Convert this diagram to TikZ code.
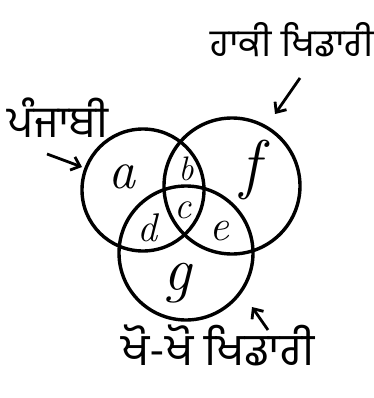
\documentclass[tikz,border=0pt]{standalone}
\usepackage{fontspec}
\newfontfamily\gurmukhifont[Script=Gurmukhi]{Hind Jalandhar}
\usetikzlibrary{arrows.meta}

\tikzset{
    venn circle/.style={
      draw=black,
      line width=3.4pt
    },
    venn label/.style={
      font=\fontsize{#1}{#1}\selectfont\itshape,
      inner sep=0pt
    },
    set name/.style={
      font=\gurmukhifont\fontsize{#1}{#1}\selectfont,
      inner sep=0pt
    },
    set arrow/.style={
      draw=black,
      line width=2.8pt,
      -{Straight Barb[length=8pt,width=14pt,line width=2.8pt]}
    }
  }

\begin{document}
\begin{tikzpicture}[x=1pt,y=-1pt]
      \useasboundingbox (0,0) rectangle (373,398);

      % 輪郭
      \draw[venn circle] (143,190) circle (61);
      \draw[venn circle] (232,186) circle (68);
      \draw[venn circle] (186,253) circle (67);

      % 領域
      \node[venn label=34] (rb) at (186,169) {b};
      \node[venn label=54] (ra) at (122,177) {a};
      \node[venn label=38] (rc) at (183,210) {c};
      \node[venn label=40] (rd) at (147,228) {d};
      \node[venn label=44] (re) at (219,231) {e};
      \node[venn label=66] (rf) at (250,170) {f};
      \node[venn label=62] (rg) at (177,283) {g};

      % ラベル
      \node[set name=44] (punjabi) at (58,118) {ਪੰਜਾਬੀ};
      \node[set name=38] (hockey) at (292,40) {ਹਾਕੀ ਖਿਡਾਰੀ};
      \node[set name=45] (khokho) at (218,345) {ਖੋ-ਖੋ ਖਿਡਾਰੀ};

      % 矢印
      \coordinate (punjabi from) at (47,154);
      \coordinate (punjabi to) at (82,167);
      \coordinate (hockey from) at (300,78);
      \coordinate (hockey to) at (275,114);
      \coordinate (khokho from) at (268,330);
      \coordinate (khokho to) at (252,307);
      \draw[set arrow] (punjabi from) -- (punjabi to);
      \draw[set arrow] (hockey from) -- (hockey to);
      \draw[set arrow] (khokho from) -- (khokho to);
    \end{tikzpicture}
\end{document}
